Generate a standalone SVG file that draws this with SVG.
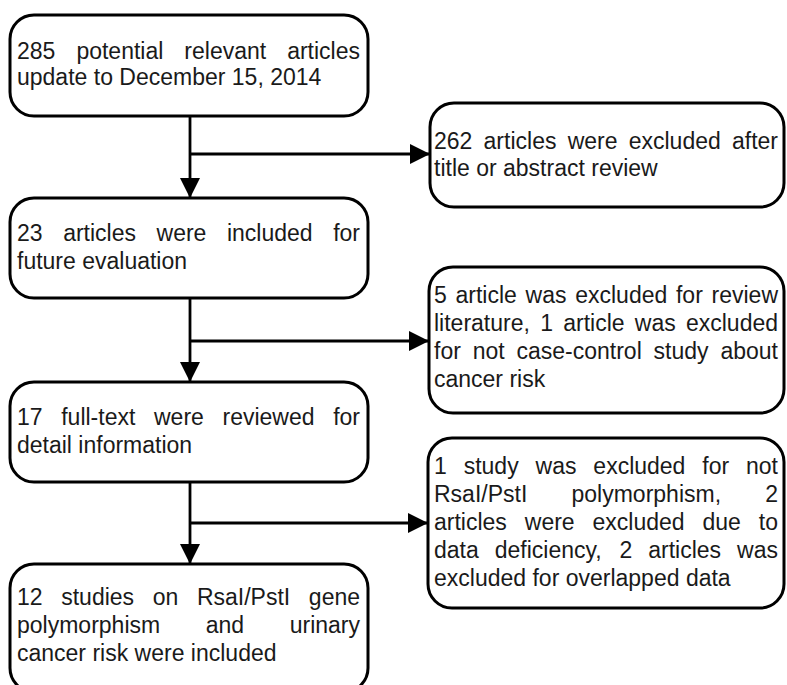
<svg xmlns="http://www.w3.org/2000/svg" width="787" height="685" viewBox="0 0 787 685">
<style>
.box{fill:#fff;stroke:#000;stroke-width:3}
.t{font-family:"Liberation Sans",Arial,sans-serif;font-size:23px;fill:#1a1a1a}
.ln{stroke:#000;stroke-width:2.8;fill:none}
</style>
<defs>
<marker id="ah" viewBox="0 0 20 20" refX="20" refY="10" markerWidth="20" markerHeight="20" markerUnits="userSpaceOnUse" orient="auto">
<path d="M0,0 L20,10 L0,20 Z" fill="#000"/>
</marker>
</defs>
<rect width="787" height="685" fill="#fff"/>
<g id="connectors">
<path class="ln" d="M190,116 V198" marker-end="url(#ah)"/>
<path class="ln" d="M190,154 H430" marker-end="url(#ah)"/>
<path class="ln" d="M190,298 V382" marker-end="url(#ah)"/>
<path class="ln" d="M190,341 H429" marker-end="url(#ah)"/>
<path class="ln" d="M190,482 V564" marker-end="url(#ah)"/>
<path class="ln" d="M190,523 H428" marker-end="url(#ah)"/>
</g>
<g id="n1">
<rect class="box" x="10" y="15" width="358" height="101" rx="24"/>
<text class="t" y="59"><tspan x="17">285</tspan><tspan x="76.38">potential</tspan><tspan x="184.34">relevant</tspan><tspan x="287.16">articles</tspan></text>
<text class="t" x="17" y="85">update to December 15, 2014</text>
</g>
<g id="n2">
<rect class="box" x="10" y="198" width="358" height="100" rx="24"/>
<text class="t" y="241"><tspan x="17">23</tspan><tspan x="63.14">articles</tspan><tspan x="156.54">were</tspan><tspan x="226.94">included</tspan><tspan x="333.16">for</tspan></text>
<text class="t" x="17" y="269">future evaluation</text>
</g>
<g id="n3">
<rect class="box" x="10" y="382" width="358" height="100" rx="24"/>
<text class="t" y="425"><tspan x="17">17</tspan><tspan x="61.23">full-text</tspan><tspan x="154.01">were</tspan><tspan x="222.5">reviewed</tspan><tspan x="333.16">for</tspan></text>
<text class="t" x="17" y="453">detail information</text>
</g>
<g id="n4">
<rect class="box" x="10" y="564" width="358" height="128" rx="24"/>
<text class="t" y="605"><tspan x="17">12</tspan><tspan x="61.21">studies</tspan><tspan x="152.7">on</tspan><tspan x="196.91">RsaI/PstI</tspan><tspan x="308.85">gene</tspan></text>
<text class="t" y="633"><tspan x="17">polymorphism</tspan><tspan x="205.74">and</tspan><tspan x="289.71">urinary</tspan></text>
<text class="t" x="17" y="661">cancer risk were included</text>
</g>
<g id="r1">
<rect class="box" x="430" y="103" width="354" height="104" rx="24"/>
<text class="t" y="149"><tspan x="434">262</tspan><tspan x="483.58">articles</tspan><tspan x="567.64">were</tspan><tspan x="628.7">excluded</tspan><tspan x="731.98">after</tspan></text>
<text class="t" x="434" y="176">title or abstract review</text>
</g>
<g id="r2">
<rect class="box" x="429" y="267" width="355" height="146" rx="24"/>
<text class="t" y="303"><tspan x="434">5</tspan><tspan x="455.52">article</tspan><tspan x="525.59">was</tspan><tspan x="575.21">excluded</tspan><tspan x="675.99">for</tspan><tspan x="711.55">review</tspan></text>
<text class="t" y="331"><tspan x="434">literature,</tspan><tspan x="540.13">1</tspan><tspan x="563.19">article</tspan><tspan x="634.8">was</tspan><tspan x="685.95">excluded</tspan></text>
<text class="t" y="359"><tspan x="434">for</tspan><tspan x="472.69">not</tspan><tspan x="516.51">case-control</tspan><tspan x="653.62">study</tspan><tspan x="720.45">about</tspan></text>
<text class="t" x="434" y="387">cancer risk</text>
</g>
<g id="r3">
<rect class="box" x="428" y="438" width="356" height="170" rx="24"/>
<text class="t" y="474"><tspan x="434">1</tspan><tspan x="463.69">study</tspan><tspan x="535.56">was</tspan><tspan x="593.35">excluded</tspan><tspan x="702.3">for</tspan><tspan x="746.03">not</tspan></text>
<text class="t" y="502"><tspan x="434">RsaI/PstI</tspan><tspan x="571.5">polymorphism,</tspan><tspan x="765.21">2</tspan></text>
<text class="t" y="530"><tspan x="434">articles</tspan><tspan x="524.77">were</tspan><tspan x="592.54">excluded</tspan><tspan x="702.52">due</tspan><tspan x="758.82">to</tspan></text>
<text class="t" y="558"><tspan x="434">data</tspan><tspan x="494.78">deficiency,</tspan><tspan x="619.45">2</tspan><tspan x="648.26">articles</tspan><tspan x="737.11">was</tspan></text>
<text class="t" x="434" y="586">excluded for overlapped data</text>
</g>
</svg>
